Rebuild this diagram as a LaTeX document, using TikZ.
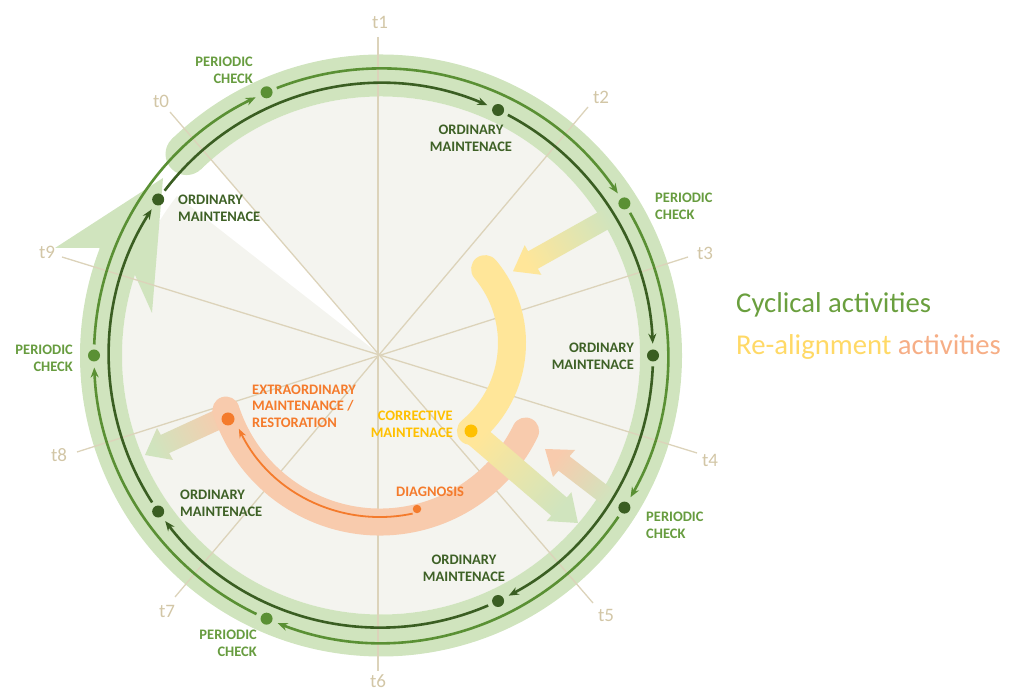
\documentclass[tikz,border=0pt]{standalone}
\usepackage{fontspec}
\setmainfont{Carlito}
\usetikzlibrary{arrows.meta}
\definecolor{bandg}{HTML}{D0E4BE}
\definecolor{discc}{HTML}{F4F4EF}
\definecolor{midg}{HTML}{5A9034}
\definecolor{darkg}{HTML}{3A5E22}
\definecolor{pertext}{HTML}{679C3F}
\definecolor{ordtext}{HTML}{3E6126}
\definecolor{spoke}{HTML}{DCD3BA}
\definecolor{tlab}{HTML}{D2C6A6}
\definecolor{yel}{HTML}{FFE699}
\definecolor{yeltext}{HTML}{FFC000}
\definecolor{peach}{HTML}{F8CBAD}
\definecolor{orng}{HTML}{F47B2C}
\definecolor{legg}{HTML}{6A9F3E}
\definecolor{legy}{HTML}{FFD966}
\definecolor{lego}{HTML}{F6AE86}
\begin{document}
\begin{tikzpicture}[x=1pt,y=1pt,
  lab/.style={font=\bfseries\fontsize{14.5}{16.7}\selectfont, inner sep=0pt},
  perlab/.style={lab, text=pertext},
  ordlab/.style={lab, text=ordtext},
  tl/.style={font=\fontsize{19}{22}\selectfont, text=tlab, inner sep=0pt},
  spk/.style={draw=spoke, line width=1.3pt},
  pdot/.style={circle, fill=midg, minimum size=12pt, inner sep=0pt},
  odot/.style={circle, fill=darkg, minimum size=12pt, inner sep=0pt},
  midarc/.style={draw=midg, line width=2.6pt, -{Stealth[length=10pt,width=8pt]}},
  darkarc/.style={draw=darkg, line width=2.6pt, -{Stealth[length=10pt,width=8pt]}},
  legfont/.style={font=\fontsize{28.7}{32}\selectfont, anchor=base west, inner sep=0pt},
]
\useasboundingbox (0,0) rectangle (1011,693);
\coordinate (C) at (381,337.5);
% disc with missing wedge
\fill[discc] (C) -- ++(142:259) arc[start angle=142, end angle=491, radius=259] -- cycle;
% outer band
\draw[bandg, line width=42pt] (C) ++(134:280) arc[start angle=134, end angle=-201, radius=280];
\fill[bandg] (C) ++(134:280) circle[radius=21];
\fill[bandg] (99,445) -- (55,445) -- (163,515) -- (152,380) -- (135,418) -- cycle;
% time labels
\node[tl] (t1) at (380,671) {t1};
\node[tl] (t2) at (601,596) {t2};
\node[tl] (t3) at (705,440) {t3};
\node[tl] (t4) at (710,233) {t4};
\node[tl] (t5) at (606,78) {t5};
\node[tl] (t6) at (378,12) {t6};
\node[tl] (t7) at (167,82) {t7};
\node[tl] (t8) at (59,238) {t8};
\node[tl] (t9) at (47,441) {t9};
\node[tl] (t0) at (161,592) {t0};
% spokes
\coordinate (s1) at (378,656); \coordinate (s6) at (378,22);
\coordinate (s2) at (588,586); \coordinate (s7) at (175,96);
\coordinate (s3) at (688,436); \coordinate (s8) at (77,241);
\coordinate (s4) at (697,240); \coordinate (s9) at (62,436);
\coordinate (s0) at (170,581); \coordinate (s5) at (593,90);
\draw[spk] (s1) -- (s6);
\draw[spk] (s2) -- (s7);
\draw[spk] (s3) -- (s8);
\draw[spk] (s4) -- (s9);
\draw[spk] (s0) -- (s5);
% gradient arrows from the band
\shade[top color=yel, bottom color=bandg, shading angle=119.2]
  (612.1,488.7) -- (528.1,441.7) -- (524.7,447.8) -- (513,421.7) -- (541.3,418.2) -- (537.9,424.3) -- (621.9,471.3) -- cycle;
\shade[top color=peach, bottom color=bandg, shading angle=52.6]
  (609,183.5) -- (558.5,222.3) -- (553,216) -- (545,244) -- (575,243) -- (569.5,236.7) -- (620,197.9) -- cycle;
% orange: extraordinary arrow, band, thin arrow
\shade[top color=peach, bottom color=bandg, shading angle=-64.3]
  (223.8,287.1) -- (160.8,258.1) -- (157,265) -- (145,238) -- (173,233) -- (169.2,239.9) -- (232.2,268.9) -- cycle;
\draw[peach, line width=27pt, line cap=round] (380,333) ++(198:162) arc[start angle=198, end angle=334, radius=162];
\node[circle, fill=orng, minimum size=8.5pt, inner sep=0pt] (dg) at (417,184) {};
\node[circle, fill=orng, minimum size=13pt, inner sep=0pt] (ex) at (228,274) {};
\draw[orng, line width=1.8pt, -{Stealth[length=9pt,width=7pt]}] (380,333) ++(282:157) arc[start angle=282, end angle=206, radius=157];
% yellow: corrective band and arrow
\draw[yel, line width=28pt, line cap=round] (397,350) ++(40:115) arc[start angle=40, end angle=-50, radius=115];
\shade[top color=yel, bottom color=bandg, shading angle=49.3]
  (478.8,271.1) -- (566.8,195.5) -- (571.4,200.8) -- (578,170) -- (546.6,172) -- (551.2,177.3) -- (463.2,252.9) -- cycle;
\node[circle, fill=yeltext, minimum size=13pt, inner sep=0pt] (co) at (471,262) {};
% ring lines
\draw[midarc] (C) ++(111.3:287) arc[start angle=111.3, end angle=34.4, radius=287];
\draw[midarc] (C) ++(29.8:287) arc[start angle=29.8, end angle=-29.6, radius=287];
\draw[midarc] (C) ++(-34.2:287) arc[start angle=-34.2, end angle=-111.1, radius=287];
\draw[midarc] (C) ++(-115.7:287) arc[start angle=-115.7, end angle=-177.6, radius=287];
\draw[midarc] (C) ++(177.8:287) arc[start angle=177.8, end angle=115.9, radius=287];
\draw[darkarc] (C) ++(142.7:272) arc[start angle=142.7, end angle=67.0, radius=272];
\draw[darkarc] (C) ++(62.2:272) arc[start angle=62.2, end angle=2.5, radius=272];
\draw[darkarc] (C) ++(-2.3:272) arc[start angle=-2.3, end angle=-62.0, radius=272];
\draw[darkarc] (C) ++(-66.8:272) arc[start angle=-66.8, end angle=-142.5, radius=272];
\draw[darkarc] (C) ++(-147.3:272) arc[start angle=-147.3, end angle=-212.5, radius=272];
% dots
\node[pdot] (p1) at ([shift={(113.5:287)}]C) {};
\node[pdot] (p2) at ([shift={(32:287)}]C) {};
\node[odot] (p3) at ([shift={(-32:287)}]C) {};
\node[pdot] (p4) at ([shift={(-113.5:287)}]C) {};
\node[pdot] (p5) at ([shift={(180:287)}]C) {};
\node[odot] (o1) at ([shift={(64.5:272)}]C) {};
\node[odot] (o2) at ([shift={(0:272)}]C) {};
\node[odot] (o3) at ([shift={(-64.5:272)}]C) {};
\node[odot] (o4) at ([shift={(-145:272)}]C) {};
\node[odot] (o5) at ([shift={(145:272)}]C) {};
% labels
\node[perlab, anchor=east, align=right] (lp1) at (253,623) {PERIODIC\\CHECK};
\node[ordlab, align=center] (lo1) at (471,555) {ORDINARY\\MAINTENACE};
\node[perlab, anchor=west, align=left] (lp2) at (655,487) {PERIODIC\\CHECK};
\node[ordlab, anchor=east, align=right] (lo2) at (634,337) {ORDINARY\\MAINTENACE};
\node[perlab, anchor=west, align=left] (lp3) at (646,168) {PERIODIC\\CHECK};
\node[ordlab, align=center] (lo3) at (464,125) {ORDINARY\\MAINTENACE};
\node[perlab, anchor=east, align=right] (lp4) at (257,50) {PERIODIC\\CHECK};
\node[ordlab, anchor=west, align=left] (lo4) at (180,190) {ORDINARY\\MAINTENACE};
\node[perlab, anchor=east, align=right] (lp5) at (73,335) {PERIODIC\\CHECK};
\node[ordlab, anchor=west, align=left] (lo5) at (178,485) {ORDINARY\\MAINTENACE};
\node[lab, text=orng, anchor=west, align=left] (lex) at (252,287) {EXTRAORDINARY\\MAINTENANCE /\\RESTORATION};
\node[lab, text=yeltext, anchor=east, align=right] (lco) at (453,269) {CORRECTIVE\\MAINTENACE};
\node[lab, text=orng, anchor=west] (ldi) at (396,201) {DIAGNOSIS};
% legend
\node[legfont, text=legg] (leg1) at (736,380) {Cyclical activities};
\node[legfont] (leg2) at (736,338) {\textcolor{legy}{Re-alignment} \textcolor{lego}{activities}};
\end{tikzpicture}
\end{document}
